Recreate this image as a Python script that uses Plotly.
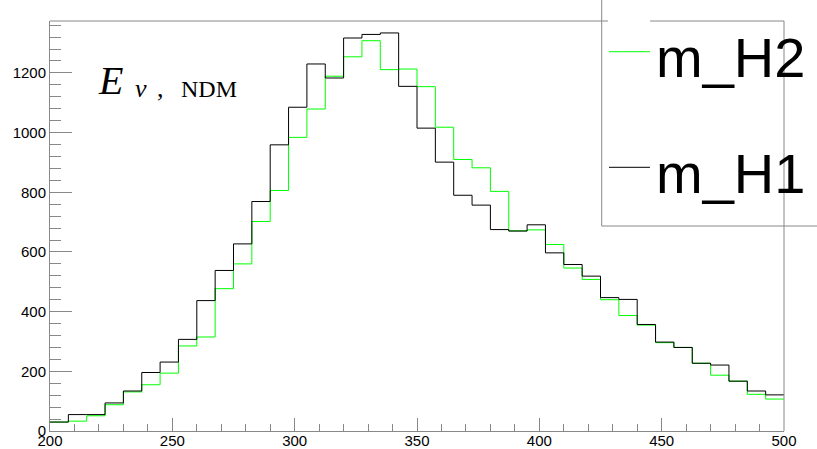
import plotly.graph_objects as go

# ---- data (bin width 7.5 from 200 to 500, 40 bins) ----
bin_low = 200.0
bin_width = 7.5
h1_counts = [30, 55, 55, 94, 134, 196, 231, 307, 437, 538,
             627, 769, 959, 1085, 1230, 1183, 1317, 1329, 1334, 1155,
             1015, 901, 790, 757, 675, 670, 691, 597, 558, 519,
             447, 441, 357, 298, 280, 227, 221, 167, 134, 121]
h2_counts = [30, 33, 51, 88, 131, 155, 194, 285, 315, 477,
             560, 702, 806, 984, 1079, 1189, 1254, 1308, 1211, 1213,
             1154, 1018, 910, 882, 803, 671, 674, 625, 546, 508,
             440, 387, 355, 296, 280, 227, 187, 167, 123, 107]
names = ["m_H2", "m_H1"]
colors = ["#00ff00", "#000000"]
x_ticks = [200, 250, 300, 350, 400, 450, 500]
y_ticks = [0, 200, 400, 600, 800, 1000, 1200]

n = len(h1_counts)
edges = [bin_low + i * bin_width for i in range(n + 1)]


def step_xy(counts):
    return edges, list(counts) + [counts[-1]]


fig = go.Figure()
for name, counts, col in zip(names, [h2_counts, h1_counts], colors):
    xs, ys = step_xy(counts)
    fig.add_trace(go.Scatter(x=xs, y=ys, mode="lines", line=dict(color=col, width=1, shape="hv"),
                             name=name, showlegend=False, hoverinfo="skip"))

sans = "Liberation Sans, Arial"
frame_col = "#888888"
fig.update_layout(
    width=817, height=449,
    margin=dict(l=50, r=33, t=21, b=18, pad=0),
    paper_bgcolor="white", plot_bgcolor="white",
    font=dict(family=sans, size=15, color="black"),
    xaxis=dict(range=[200, 500], tickmode="array", tickvals=x_ticks, ticktext=[str(v) for v in x_ticks],
               ticks="inside", ticklen=13, tickwidth=1, tickcolor=frame_col,
               minor=dict(dtick=10, ticks="inside", ticklen=7, tickcolor=frame_col, tickwidth=1),
               showgrid=False, zeroline=False, showline=True, linecolor=frame_col, linewidth=1,
               automargin=False, tickfont=dict(size=15), ticklabelstandoff=-4),
    yaxis=dict(range=[0, 1374], tickmode="array", tickvals=y_ticks, ticktext=[str(v) for v in y_ticks],
               ticks="inside", ticklen=22, tickwidth=1, tickcolor=frame_col,
               minor=dict(dtick=40, ticks="inside", ticklen=11, tickcolor=frame_col, tickwidth=1),
               showgrid=False, zeroline=False, showline=True, linecolor=frame_col, linewidth=1,
               automargin=False, tickfont=dict(size=15)),
)

shapes = []
# frame right and top (top partially hidden by legend entry)
shapes.append(dict(type="line", xref="paper", yref="paper", x0=1, x1=1, y0=0, y1=1,
                   line=dict(color=frame_col, width=1)))
shapes.append(dict(type="line", xref="paper", yref="paper", x0=0, x1=(608 - 50) / 734, y0=1, y1=1,
                   line=dict(color=frame_col, width=1)))
shapes.append(dict(type="line", xref="paper", yref="paper", x0=(650 - 50) / 734, x1=1, y0=1, y1=1,
                   line=dict(color=frame_col, width=1)))
# legend box
shapes.append(dict(type="rect", xref="paper", yref="paper", x0=(601.7 - 50) / 734, x1=(830 - 50) / 734,
                   y0=(431 - 226) / 410, y1=(431 + 5) / 410, line=dict(color=frame_col, width=1)))
# legend samples
leg_y = [(431 - 51.7) / 410, (431 - 167.3) / 410]
for col, yy in zip(colors, leg_y):
    shapes.append(dict(type="line", xref="paper", yref="paper", x0=(609 - 50) / 734, x1=(650 - 50) / 734,
                       y0=yy, y1=yy, line=dict(color=col, width=1)))
fig.update_layout(shapes=shapes)

ann = []
leg_text_y = [(431 - 57.9) / 410, (431 - 173.9) / 410]
for name, yy in zip(names, leg_text_y):
    ann.append(dict(xref="paper", yref="paper", x=(654 - 50) / 734, y=yy, xanchor="left", yanchor="middle",
                    text=name, showarrow=False,
                    font=dict(family=sans, size=56, color="black")))
# E_nu,NDM label
serif = "Liberation Serif, DejaVu Serif, Times New Roman"
ann.append(dict(xref="paper", yref="paper", x=(96 - 50) / 734, y=(431 - 80.0) / 410, xanchor="left",
                yanchor="middle", text="<i>E</i>", showarrow=False,
                font=dict(family=serif, size=40, color="black")))
ann.append(dict(xref="paper", yref="paper", x=(133 - 50) / 734, y=(431 - 88.5) / 410, xanchor="left",
                yanchor="middle", text="<i>ν</i>", showarrow=False,
                font=dict(family=serif, size=26, color="black")))
ann.append(dict(xref="paper", yref="paper", x=(155 - 50) / 734, y=(431 - 88.5) / 410, xanchor="left",
                yanchor="middle", text=",", showarrow=False,
                font=dict(family=serif, size=26, color="black")))
ann.append(dict(xref="paper", yref="paper", x=(179 - 50) / 734, y=(431 - 89.3) / 410, xanchor="left",
                yanchor="middle", text="NDM", showarrow=False,
                font=dict(family=serif, size=24, color="black")))
fig.update_layout(annotations=ann)

fig.write_html("out.html")
